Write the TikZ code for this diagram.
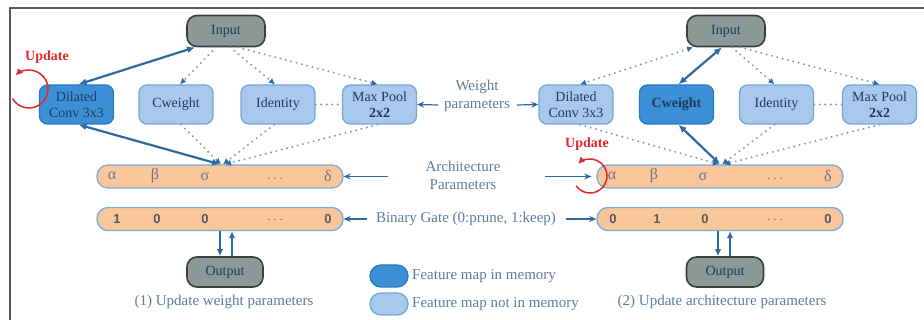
\documentclass[tikz,border=0pt]{standalone}
\usepackage{fontspec}
\setmainfont{Liberation Serif}
\newfontfamily\digitsans{Liberation Sans}
\usetikzlibrary{arrows.meta}

\definecolor{onfill}{HTML}{3A8FD6}
\definecolor{onedge}{HTML}{2A78C0}
\definecolor{offfill}{HTML}{A9C9EC}
\definecolor{offedge}{HTML}{74A7DC}
\definecolor{iofill}{HTML}{8D9997}
\definecolor{iodraw}{HTML}{3B3F3F}
\definecolor{barfill}{HTML}{F9C79A}
\definecolor{baredge}{HTML}{74AEE0}
\definecolor{navy}{HTML}{1E3A5F}
\definecolor{arrowblue}{HTML}{2D6AA3}
\definecolor{dotcol}{HTML}{7F9AB8}
\definecolor{lblcol}{HTML}{5D7C9C}
\definecolor{redc}{HTML}{E3262B}
\definecolor{greekcol}{HTML}{707585}
\definecolor{digitcol}{HTML}{5A5A5A}
\definecolor{framecol}{HTML}{5A5A5A}

\newcommand\opfont{\fontsize{14}{16}\selectfont}
\newcommand\lblfont{\fontsize{15}{18}\selectfont}
\newcommand\spdots{.\hspace{3pt}.\hspace{3pt}.}

\tikzset{
  op/.style={rounded corners=8pt, line width=1.3pt, minimum width=74pt,
    minimum height=39pt, align=center, font=\opfont, text=navy, inner sep=1pt},
  opon/.style={op, fill=onfill, draw=onedge},
  opoff/.style={op, fill=offfill, draw=offedge},
  io/.style={rounded corners=10pt, draw=iodraw, fill=iofill, line width=1.6pt,
    minimum width=78pt, minimum height=31pt, font=\opfont, text=navy},
  bar/.style={rounded corners=11pt, draw=baredge, fill=barfill, line width=1.3pt,
    minimum width=246pt, minimum height=23pt},
  greek/.style={font=\fontsize{16}{16}\selectfont, text=greekcol, inner sep=0pt},
  dots/.style={font=\fontsize{13}{13}\selectfont, text=greekcol, inner sep=0pt},
  digit/.style={font=\digitsans\bfseries\fontsize{13}{13}\selectfont, text=digitcol, inner sep=0pt},
  lbl/.style={font=\lblfont, text=lblcol, align=center, inner sep=0pt},
  upd/.style={font=\bfseries\fontsize{14}{14}\selectfont, text=redc, inner sep=0pt},
  legendpill/.style={rounded corners=11pt, line width=1.3pt, minimum width=38pt, minimum height=22pt},
  solidlink/.style={draw=arrowblue, line width=2.2pt,
    arrows={Latex[length=8pt,width=7pt]-Latex[length=8pt,width=7pt]}},
  dotline/.style={draw=dotcol, line width=2.2pt, dash pattern=on 0pt off 5.5pt, line cap=round},
  dotlink/.style={dotline, arrows={-Latex[length=6pt,width=6pt,color=arrowblue]}},
  dotboth/.style={dotline, arrows={Latex[length=6pt,width=6pt,color=arrowblue]-Latex[length=6pt,width=6pt,color=arrowblue]}},
  lblarrow/.style={draw=arrowblue, line width=1.2pt, arrows={-Stealth[length=7pt,width=6pt]}},
  outarrow/.style={draw=arrowblue, line width=1.8pt, arrows={-Latex[length=7pt,width=6.5pt]}},
  updarc/.style={draw=redc, line width=1.5pt, arrows={-Latex[length=7pt,width=7pt]}}
}

\begin{document}
\begin{tikzpicture}[x=1pt,y=-1pt]
\useasboundingbox (0,0) rectangle (924,320);

% frame (left and top edges)
\coordinate (frA) at (10,321);
\coordinate (frB) at (10,8);
\coordinate (frC) at (925,8);
\draw[framecol, line width=1.6pt] (frA) -- (frB) -- (frC);

% ---------- left panel: update weight parameters ----------
\node[io] (inL) at (226,31) {Input};
\node[opon]  (dcL) at (76.5,104.5) {Dilated\\Conv 3x3};
\node[opoff] (cwL) at (176,104.5) {Cweight};
\node[opoff] (idL) at (278,104.5) {Identity};
\node[opoff] (mpL) at (379.5,104.5) {Max Pool\\\textbf{2x2}};
\node[bar] (archL) at (220,176.5) {};
\node[bar] (binL) at (220,219) {};
\node[io, minimum width=76pt, minimum height=30pt] (outL) at (225,272) {Output};

\node[greek] (aL1) at (112,176) {α};
\node[greek] (aL2) at (155,176) {β};
\node[greek] (aL3) at (205,176) {σ};
\node[dots]  (aL4) at (275,179) {\spdots};
\node[greek] (aL5) at (328,176) {δ};
\node[digit] (bL1) at (117,219) {1};
\node[digit] (bL2) at (157,219) {0};
\node[digit] (bL3) at (205,219) {0};
\node[dots]  (bL4) at (275,220) {\spdots};
\node[digit] (bL5) at (328,219) {0};

\draw[solidlink] ([xshift=-31pt]inL.south) -- ([xshift=2pt]dcL.north);
\draw[solidlink] ([xshift=2pt]dcL.south) -- (archL.north);
\draw[dotlink] ([xshift=-10pt]inL.south) -- ([xshift=4pt]cwL.north);
\draw[dotlink] ([xshift=4pt]inL.south) -- ([xshift=-3pt]idL.north);
\draw[dotlink] ([xshift=12pt]inL.south) -- ([xshift=-2pt]mpL.north);
\draw[dotlink] ([xshift=5pt]cwL.south) -- ([xshift=1pt]archL.north);
\draw[dotlink] ([xshift=-4pt]idL.south) -- ([xshift=3pt]archL.north);
\draw[dotlink] ([xshift=-2pt]mpL.south) -- ([xshift=5pt]archL.north);
\draw[dotline] (idL.east) -- (mpL.west);

\draw[outarrow] (binL.south) -- ([xshift=-5pt]outL.north);
\draw[outarrow] ([xshift=7pt]outL.north) -- ([xshift=12pt]binL.south);

\node[upd] (updL) at (47,57) {Update};
\coordinate (ucL) at (29,89);
\draw[updarc] ([shift={(150:19)}]ucL) arc (150:-135:19);

\node[lbl] (capL) at (224,302) {(1) Update weight parameters};

% ---------- right panel: update architecture parameters ----------
\node[io] (inR) at (726,31) {Input};
\node[opoff] (dcR) at (576,104.5) {Dilated\\Conv 3x3};
\node[opon]  (cwR) at (676.5,104.5) {\textbf{Cweight}};
\node[opoff] (idR) at (776.5,104.5) {Identity};
\node[opoff] (mpR) at (879.5,104.5) {Max Pool\\\textbf{2x2}};
\node[bar] (archR) at (720,176.5) {};
\node[bar] (binR) at (720,219) {};
\node[io, minimum width=77pt, minimum height=30pt] (outR) at (725,272) {Output};

\node[greek] (aR1) at (612,176) {α};
\node[greek] (aR2) at (654,176) {β};
\node[greek] (aR3) at (703,176) {σ};
\node[dots]  (aR4) at (775,179) {\spdots};
\node[greek] (aR5) at (828,176) {δ};
\node[digit] (bR1) at (613,219) {0};
\node[digit] (bR2) at (657,219) {1};
\node[digit] (bR3) at (705,219) {0};
\node[dots]  (bR4) at (775,220) {\spdots};
\node[digit] (bR5) at (828,219) {0};

\draw[solidlink] ([xshift=-4pt]inR.south) -- ([xshift=2pt]cwR.north);
\draw[solidlink] ([xshift=2pt]cwR.south) -- (archR.north);
\draw[dotboth] ([xshift=-33pt]inR.south) -- ([xshift=4pt]dcR.north);
\draw[dotlink] ([xshift=6pt]inR.south) -- ([xshift=-2pt]idR.north);
\draw[dotlink] ([xshift=14pt]inR.south) -- (mpR.north);
\draw[dotlink] ([xshift=4pt]dcR.south) -- ([xshift=-1pt]archR.north);
\draw[dotlink] ([xshift=-2pt]idR.south) -- ([xshift=2pt]archR.north);
\draw[dotlink] (mpR.south) -- ([xshift=4pt]archR.north);
\draw[dotline] (idR.east) -- (mpR.west);

\draw[outarrow] ([xshift=-2pt]binR.south) -- ([xshift=-7pt]outR.north);
\draw[outarrow] ([xshift=5pt]outR.north) -- ([xshift=10pt]binR.south);

\node[upd] (updR) at (587,144) {Update};
\coordinate (ucR) at (590,176);
\draw[updarc] ([shift={(145:17)}]ucR) arc (145:-135:17);

\node[lbl] (capR) at (722,302) {(2) Update architecture parameters};

% ---------- shared labels ----------
\node[lbl] (wlab) at (477,96) {Weight\\parameters};
\coordinate (wA) at (438,105);
\coordinate (wB) at (517,105);
\draw[lblarrow] (wA) -- (mpL.east);
\draw[lblarrow] (wB) -- (dcR.west);

\node[lbl] (alab) at (463,175) {Architecture\\Parameters};
\coordinate (aA) at (388,176.5);
\coordinate (aB) at (545,176.5);
\draw[lblarrow] (aA) -- (archL.east);
\draw[lblarrow] (aB) -- ([xshift=-5pt]archR.west);

\node[lbl] (blab) at (466,219) {Binary Gate (0:prune, 1:keep)};
\coordinate (bA) at (367,219);
\coordinate (bB) at (566,219);
\draw[lblarrow] (bA) -- (binL.east);
\draw[lblarrow] (bB) -- (binR.west);

% ---------- legend ----------
\node[legendpill, fill=onfill, draw=onedge] (legOn) at (389,276) {};
\node[legendpill, fill=offfill, draw=offedge] (legOff) at (389,304) {};
\node[lbl, anchor=west] (legOnT) at (412,276) {Feature map in memory};
\node[lbl, anchor=west] (legOffT) at (412,304) {Feature map not in memory};
\end{tikzpicture}
\end{document}
